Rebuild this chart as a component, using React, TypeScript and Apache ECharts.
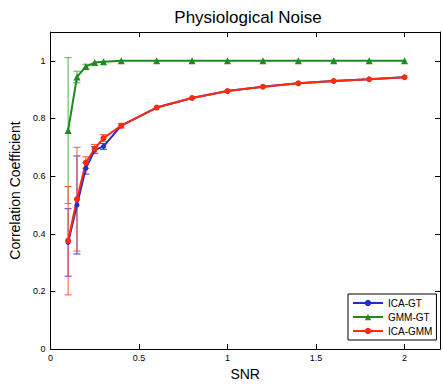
import React, { useEffect, useRef } from 'react';
import * as echarts from 'echarts';

const snr = [0.1, 0.15, 0.2, 0.25, 0.3, 0.4, 0.6, 0.8, 1.0, 1.2, 1.4, 1.6, 1.8, 2.0];
const icaGt = [0.37, 0.5, 0.627, 0.69, 0.703, 0.775, 0.838, 0.871, 0.895, 0.91, 0.922, 0.93, 0.936, 0.943];
const icaGtErr = [0.117, 0.17, 0.02, 0.012, 0.01, 0.006, 0.004, 0.003, 0.003, 0.002, 0.002, 0.002, 0.002, 0.002];
const gmmGt = [0.758, 0.944, 0.98, 0.994, 0.997, 1.0, 1.0, 1.0, 1.0, 1.0, 1.0, 1.0, 1.0, 1.0];
const gmmGtErr = [0.253, 0.02, 0.008, 0.004, 0.002, 0.001, 0, 0, 0, 0, 0, 0, 0, 0];
const icaGmm = [0.376, 0.52, 0.647, 0.695, 0.732, 0.775, 0.838, 0.871, 0.895, 0.91, 0.922, 0.93, 0.936, 0.943];
const icaGmmErr = [0.188, 0.18, 0.02, 0.015, 0.012, 0.008, 0.005, 0.004, 0.003, 0.003, 0.002, 0.002, 0.002, 0.002];

const xTicks = [0, 0.5, 1, 1.5, 2];
const yTicks = [0, 0.2, 0.4, 0.6, 0.8, 1];

const FONT = 'Liberation Sans';
const BLUE = '#1f2fc8';
const GREEN = '#1f8a1f';
const RED = '#ff2a10';

function errData(vals: number[], errs: number[]) {
  return snr.map((x, i) => [x, vals[i] - errs[i], vals[i] + errs[i]]);
}

function errSeries(name: string, vals: number[], errs: number[], color: string) {
  return {
    type: 'custom',
    name,
    data: errData(vals, errs),
    encode: { x: 0, y: [1, 2] },
    z: 1,
    renderItem: (params: any, api: any) => {
      const x = api.value(0);
      const lo = api.value(1);
      const hi = api.value(2);
      if (hi - lo < 0.015) return { type: 'group', children: [] };
      const p1 = api.coord([x, hi]);
      const p2 = api.coord([x, lo]);
      const w = 3.5;
      const style = { stroke: color, lineWidth: 1 };
      return {
        type: 'group',
        children: [
          { type: 'line', shape: { x1: p1[0], y1: p1[1], x2: p2[0], y2: p2[1] }, style },
          { type: 'line', shape: { x1: p1[0] - w, y1: p1[1], x2: p1[0] + w, y2: p1[1] }, style },
          { type: 'line', shape: { x1: p2[0] - w, y1: p2[1], x2: p2[0] + w, y2: p2[1] }, style },
        ],
      };
    },
  };
}

function lineSeries(name: string, vals: number[], color: string, symbol: string, size: number) {
  return {
    type: 'line',
    name,
    data: snr.map((x, i) => [x, vals[i]]),
    symbol,
    symbolSize: size,
    showSymbol: true,
    lineStyle: { color, width: 2 },
    itemStyle: { color },
    z: 3,
  };
}

export default function App() {
  const ref = useRef<HTMLDivElement>(null);
  useEffect(() => {
    document.body.style.margin = '0';
    const chart = echarts.init(ref.current!, null, { renderer: 'svg' });
    const axisCommon = {
      min: 0,
      splitLine: { show: false },
      axisLine: { show: true, onZero: false, lineStyle: { color: '#000', width: 1 } },
      axisTick: { show: true, inside: true, length: 5, lineStyle: { color: '#000' } },
    };
    chart.setOption({
      animation: false,
      backgroundColor: '#fff',
      title: {
        text: 'Physiological Noise',
        left: 243,
        top: 4,
        textAlign: 'center',
        textStyle: { fontFamily: FONT, fontSize: 17, fontWeight: 'normal', color: '#000' },
      },
      grid: { left: 42, top: 32, right: 0, bottom: 33, show: false },
      legend: {
        data: ['ICA-GT', 'GMM-GT', 'ICA-GMM'],
        orient: 'vertical',
        left: 348,
        top: 294,
        itemWidth: 30,
        itemHeight: 8,
        itemGap: 2,
        padding: [3, 4, 3, 4],
        borderColor: '#000',
        borderWidth: 1,
        borderRadius: 0,
        backgroundColor: '#fff',
        textStyle: { fontFamily: FONT, fontSize: 10, lineHeight: 12, color: '#000' },
      },
      xAxis: [
        {
          ...axisCommon,
          type: 'value',
          max: 2.2,
          interval: 0.5,
          position: 'bottom',
          name: 'SNR',
          nameLocation: 'middle',
          nameGap: 17,
          nameTextStyle: { fontFamily: FONT, fontSize: 14, color: '#000' },
          axisLabel: {
            fontFamily: FONT,
            fontSize: 9,
            color: '#000',
            margin: 4,
            formatter: (v: number) => (xTicks.some((t) => Math.abs(t - v) < 1e-9) ? String(v) : ''),
          },
        },
        {
          ...axisCommon,
          type: 'value',
          max: 2.2,
          interval: 0.5,
          position: 'top',
          axisLabel: { show: false },
        },
      ],
      yAxis: [
        {
          ...axisCommon,
          type: 'value',
          max: 1.1,
          interval: 0.2,
          position: 'left',
          name: 'Correlation Coefficient',
          nameLocation: 'middle',
          nameGap: 26,
          nameTextStyle: { fontFamily: FONT, fontSize: 14, color: '#000' },
          axisLabel: {
            fontFamily: FONT,
            fontSize: 9,
            color: '#000',
            margin: 5,
            formatter: (v: number) => (yTicks.some((t) => Math.abs(t - v) < 1e-9) ? String(v) : ''),
          },
        },
        {
          ...axisCommon,
          type: 'value',
          max: 1.1,
          interval: 0.2,
          position: 'right',
          axisLabel: { show: false },
        },
      ],
      series: [
        errSeries('ICA-GT err', icaGt, icaGtErr, '#3040e8'),
        errSeries('GMM-GT err', gmmGt, gmmGtErr, '#48b848'),
        errSeries('ICA-GMM err', icaGmm, icaGmmErr, '#ff5a28'),
        lineSeries('ICA-GT', icaGt, BLUE, 'circle', 5),
        lineSeries('GMM-GT', gmmGt, GREEN, 'triangle', 7),
        lineSeries('ICA-GMM', icaGmm, RED, 'circle', 6),
      ],
    });
    return () => chart.dispose();
  }, []);
  return <div ref={ref} style={{ width: 443, height: 386 }} />;
}
